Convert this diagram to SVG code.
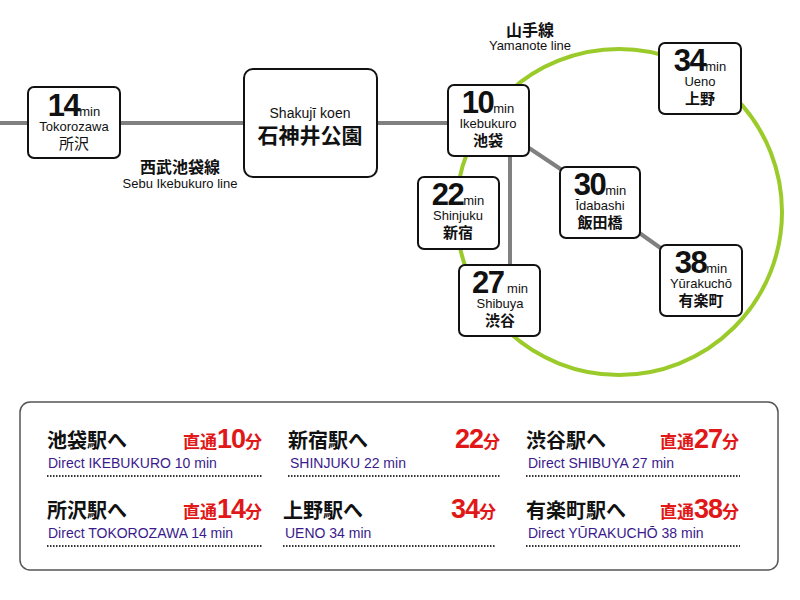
<svg xmlns="http://www.w3.org/2000/svg" width="800" height="600" viewBox="0 0 800 600">
<style>
text{font-family:"Liberation Sans","Noto Sans CJK JP",sans-serif;text-anchor:middle;fill:#111}
.box{fill:#fff;stroke:#111;stroke-width:2}
.num{font-size:31px;font-weight:bold;letter-spacing:-1.5px}
.min{font-size:13px}
.en{font-size:13px}
.jp{font-size:15px;font-weight:bold}
.gl{stroke:#808080;stroke-width:4;fill:none}
.h{font-size:20px;font-weight:bold;text-anchor:start}
.d{font-size:14px;fill:#3a1a8c;text-anchor:start}
.r{font-size:27px;font-weight:bold;fill:#e01818;text-anchor:end;letter-spacing:-1px}
.rs{font-size:17px;letter-spacing:0}
.dot{stroke:#333;stroke-width:2;stroke-dasharray:1.5 1.5}
</style>
<g id="connectors">
<circle cx="619" cy="212" r="163" fill="none" stroke="#9acb2a" stroke-width="4"/>
<line class="gl" x1="0" y1="123" x2="448" y2="123"/>
<line class="gl" x1="510" y1="156" x2="510" y2="265"/>
<line class="gl" x1="529" y1="148" x2="562" y2="170"/>
<line class="gl" x1="638" y1="232" x2="662" y2="249"/>
</g>
<g id="labels">
<text x="530" y="36" style="font-size:16px;font-weight:bold">山手線</text>
<text x="530" y="50" class="en">Yamanote line</text>
<text x="180" y="173" style="font-size:16px;font-weight:bold">西武池袋線</text>
<text x="180" y="188" class="en">Sebu Ikebukuro line</text>
</g>
<g id="tokorozawa">
<rect class="box" x="28" y="87" width="92" height="71" rx="6"/>
<text x="74" y="116"><tspan class="num">14</tspan><tspan class="min">min</tspan></text>
<text x="74" y="131" class="en">Tokorozawa</text>
<text x="74" y="149" class="jp" style="font-weight:normal">所沢</text>
</g>
<g id="shakujii">
<rect class="box" x="244" y="69" width="133" height="108" rx="9" stroke-width="3"/>
<text x="310" y="118" style="font-size:14px">Shakujī koen</text>
<text x="310" y="143" style="font-size:21px;font-weight:bold">石神井公園</text>
</g>
<g id="ikebukuro">
<rect class="box" x="448" y="85" width="81" height="71" rx="6"/>
<text x="488" y="113"><tspan class="num">10</tspan><tspan class="min">min</tspan></text>
<text x="488" y="128" class="en">Ikebukuro</text>
<text x="488" y="146" class="jp">池袋</text>
</g>
<g id="ueno">
<rect class="box" x="659" y="43" width="82" height="71" rx="6"/>
<text x="700" y="71"><tspan class="num">34</tspan><tspan class="min">min</tspan></text>
<text x="700" y="86" class="en">Ueno</text>
<text x="700" y="104" class="jp">上野</text>
</g>
<g id="shinjuku">
<rect class="box" x="418" y="177" width="81" height="72" rx="6"/>
<text x="458" y="205"><tspan class="num">22</tspan><tspan class="min">min</tspan></text>
<text x="458" y="220" class="en">Shinjuku</text>
<text x="458" y="238" class="jp">新宿</text>
</g>
<g id="idabashi">
<rect class="box" x="560" y="167" width="80" height="71" rx="6"/>
<text x="600" y="195"><tspan class="num">30</tspan><tspan class="min">min</tspan></text>
<text x="600" y="210" class="en">Īdabashi</text>
<text x="600" y="228" class="jp">飯田橋</text>
</g>
<g id="shibuya">
<rect class="box" x="459" y="265" width="81" height="71" rx="6"/>
<text x="500" y="293"><tspan class="num">27</tspan><tspan class="min"> min</tspan></text>
<text x="500" y="308" class="en">Shibuya</text>
<text x="500" y="326" class="jp">渋谷</text>
</g>
<g id="yurakucho">
<rect class="box" x="660" y="245" width="82" height="71" rx="6"/>
<text x="701" y="273"><tspan class="num">38</tspan><tspan class="min">min</tspan></text>
<text x="701" y="288" class="en">Yūrakuchō</text>
<text x="701" y="306" class="jp">有楽町</text>
</g>
<g id="panel">
<rect x="20" y="402" width="758" height="168" rx="10" fill="#fff" stroke="#555" stroke-width="1.5"/>
<text x="47" y="448" class="h">池袋駅へ</text>
<text x="262" y="448" class="r"><tspan class="rs">直通</tspan>10<tspan class="rs">分</tspan></text>
<text x="48" y="468" class="d">Direct IKEBUKURO 10 min</text>
<line class="dot" x1="47" y1="476" x2="262" y2="476"/>
<text x="288" y="448" class="h">新宿駅へ</text>
<text x="500" y="448" class="r">22<tspan class="rs">分</tspan></text>
<text x="290" y="468" class="d">SHINJUKU 22 min</text>
<line class="dot" x1="288" y1="476" x2="500" y2="476"/>
<text x="526" y="448" class="h">渋谷駅へ</text>
<text x="739" y="448" class="r"><tspan class="rs">直通</tspan>27<tspan class="rs">分</tspan></text>
<text x="528" y="468" class="d">Direct SHIBUYA 27 min</text>
<line class="dot" x1="526" y1="476" x2="740" y2="476"/>
<text x="47" y="518" class="h">所沢駅へ</text>
<text x="262" y="518" class="r"><tspan class="rs">直通</tspan>14<tspan class="rs">分</tspan></text>
<text x="48" y="538" class="d">Direct TOKOROZAWA 14 min</text>
<line class="dot" x1="47" y1="546" x2="262" y2="546"/>
<text x="283" y="518" class="h">上野駅へ</text>
<text x="496" y="518" class="r">34<tspan class="rs">分</tspan></text>
<text x="285" y="538" class="d">UENO 34 min</text>
<line class="dot" x1="283" y1="546" x2="496" y2="546"/>
<text x="526" y="518" class="h">有楽町駅へ</text>
<text x="739" y="518" class="r"><tspan class="rs">直通</tspan>38<tspan class="rs">分</tspan></text>
<text x="528" y="538" class="d">Direct YŪRAKUCHŌ 38 min</text>
<line class="dot" x1="526" y1="546" x2="740" y2="546"/>
</g>
</svg>
